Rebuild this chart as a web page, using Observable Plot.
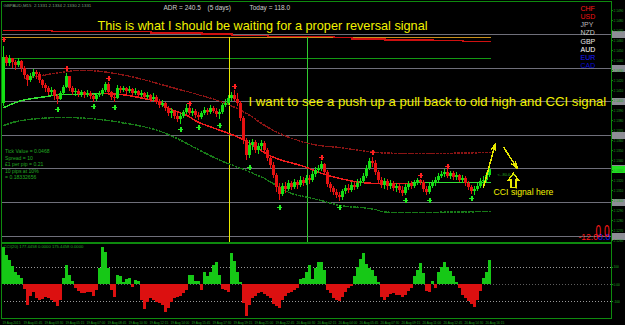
<!DOCTYPE html>
<html><head><meta charset="utf-8">
<script src="https://cdn.jsdelivr.net/npm/d3@7"></script>
<script src="https://cdn.jsdelivr.net/npm/@observablehq/plot@0.6"></script>
<style>
html,body{margin:0;padding:0;background:#000;}
#chart{position:relative;width:625px;height:325px;background:#000;overflow:hidden;}
#chart svg{position:absolute;left:0;display:block;}
</style></head><body><div id="chart"></div>
<script>
// ---------------- data ----------------
const firstOpen = 2.1397;
const close = [2.1443,2.1437,2.1442,2.1438,2.1435,2.1439,2.1432,2.1425,2.1420,2.1424,
2.1428,2.1426,2.1420,2.1415,2.1412,2.1408,2.1410,2.1404,2.1401,2.1407,
2.1413,2.1424,2.1412,2.1408,2.1409,2.1406,2.1408,2.1405,2.1407,2.1404,
2.1401,2.1405,2.1406,2.1410,2.1416,2.1408,2.1403,2.1402,2.1412,2.1410,
2.1412,2.1409,2.1411,2.1407,2.1409,2.1405,2.1407,2.1403,2.1405,2.1401,
2.1403,2.1399,2.1395,2.1397,2.1392,2.1387,2.1389,2.1384,2.1381,2.1384,
2.1388,2.1392,2.1387,2.1389,2.1385,2.1383,2.1387,2.1390,2.1388,2.1392,
2.1389,2.1386,2.1388,2.1395,2.1397,2.1402,2.1405,2.1401,2.1397,2.1382,
2.1360,2.1345,2.1355,2.1358,2.1350,2.1354,2.1357,2.1350,2.1342,2.1335,
2.1325,2.1313,2.1306,2.1314,2.1311,2.1317,2.1313,2.1318,2.1315,2.1320,
2.1317,2.1322,2.1320,2.1326,2.1330,2.1332,2.1336,2.1328,2.1316,2.1312,
2.1308,2.1305,2.1303,2.1309,2.1312,2.1310,2.1315,2.1313,2.1317,2.1319,
2.1324,2.1332,2.1339,2.1337,2.1328,2.1320,2.1315,2.1319,2.1314,2.1317,
2.1312,2.1314,2.1310,2.1307,2.1313,2.1316,2.1314,2.1317,2.1320,2.1318,
2.1311,2.1308,2.1314,2.1317,2.1320,2.1324,2.1326,2.1328,2.1324,2.1327,
2.1323,2.1325,2.1320,2.1322,2.1317,2.1313,2.1309,2.1311,2.1314,2.1319,
2.1320,2.1325,2.1331];
const high = [2.1454,2.1445,2.1445,2.1442,2.1440,2.1442,2.1440,2.1434,2.1426,2.1427,
2.1431,2.1430,2.1428,2.1421,2.1417,2.1414,2.1413,2.1411,2.1406,2.1409,
2.1415,2.1427,2.1424,2.1414,2.1412,2.1411,2.1410,2.1409,2.1410,2.1409,
2.1406,2.1407,2.1409,2.1412,2.1418,2.1418,2.1409,2.1405,2.1415,2.1414,
2.1414,2.1413,2.1414,2.1412,2.1412,2.1410,2.1410,2.1408,2.1408,2.1406,
2.1407,2.1405,2.1401,2.1400,2.1398,2.1394,2.1392,2.1390,2.1387,2.1387,
2.1390,2.1396,2.1394,2.1392,2.1391,2.1388,2.1389,2.1393,2.1392,2.1395,
2.1394,2.1392,2.1391,2.1397,2.1401,2.1405,2.1408,2.1410,2.1407,2.1399,
2.1384,2.1362,2.1360,2.1361,2.1360,2.1357,2.1360,2.1359,2.1352,2.1345,
2.1338,2.1327,2.1317,2.1317,2.1318,2.1320,2.1319,2.1321,2.1320,2.1324,
2.1323,2.1325,2.1325,2.1329,2.1333,2.1335,2.1339,2.1337,2.1330,2.1318,
2.1314,2.1311,2.1308,2.1311,2.1315,2.1316,2.1318,2.1318,2.1321,2.1322,
2.1327,2.1335,2.1342,2.1343,2.1340,2.1330,2.1323,2.1322,2.1321,2.1320,
2.1319,2.1317,2.1316,2.1314,2.1316,2.1319,2.1319,2.1320,2.1322,2.1321,
2.1320,2.1314,2.1317,2.1320,2.1323,2.1327,2.1329,2.1331,2.1331,2.1329,
2.1329,2.1328,2.1326,2.1325,2.1324,2.1319,2.1315,2.1314,2.1317,2.1322,
2.1324,2.1328,2.1334];
const low = [2.1394,2.1434,2.1434,2.1432,2.1430,2.1433,2.1428,2.1422,2.1414,2.1418,
2.1422,2.1421,2.1417,2.1412,2.1408,2.1405,2.1404,2.1400,2.1396,2.1400,
2.1405,2.1412,2.1409,2.1405,2.1404,2.1403,2.1403,2.1402,2.1403,2.1401,
2.1398,2.1399,2.1403,2.1404,2.1408,2.1406,2.1400,2.1398,2.1401,2.1407,
2.1408,2.1406,2.1407,2.1404,2.1405,2.1403,2.1403,2.1401,2.1401,2.1398,
2.1399,2.1396,2.1392,2.1393,2.1389,2.1384,2.1382,2.1381,2.1378,2.1376,
2.1382,2.1386,2.1385,2.1384,2.1382,2.1380,2.1381,2.1385,2.1385,2.1386,
2.1387,2.1383,2.1381,2.1386,2.1393,2.1395,2.1399,2.1399,2.1394,2.1379,
2.1356,2.1340,2.1342,2.1350,2.1347,2.1346,2.1350,2.1346,2.1339,2.1332,
2.1322,2.1308,2.1300,2.1304,2.1307,2.1309,2.1310,2.1311,2.1311,2.1313,
2.1314,2.1315,2.1316,2.1318,2.1323,2.1327,2.1329,2.1325,2.1313,2.1308,
2.1305,2.1302,2.1299,2.1300,2.1306,2.1307,2.1308,2.1310,2.1311,2.1314,
2.1317,2.1322,2.1330,2.1333,2.1325,2.1317,2.1312,2.1311,2.1310,2.1311,
2.1309,2.1308,2.1307,2.1304,2.1305,2.1310,2.1311,2.1312,2.1315,2.1315,
2.1308,2.1305,2.1306,2.1312,2.1314,2.1318,2.1322,2.1323,2.1322,2.1321,
2.1320,2.1320,2.1318,2.1317,2.1314,2.1310,2.1306,2.1305,2.1309,2.1312,
2.1316,2.1318,2.1323];
const cci = [211,166,137,103,69,51,34,-29,-120,-69,
-46,-80,-91,-86,-74,-80,-91,-103,-126,-91,
34,109,51,17,-23,-40,-51,-51,-46,-46,
-69,-34,91,211,183,91,-34,-74,51,46,
11,29,34,-17,23,17,-91,-143,-103,-80,
-91,-103,-109,-120,-160,-137,-103,-80,-74,-69,
-51,-34,51,51,17,17,-34,69,46,69,
109,126,51,-29,-34,-46,177,131,69,11,
-109,-183,-120,-80,-69,-51,-46,-57,-69,-80,
-114,-126,-137,-91,-69,-51,-46,-34,-23,29,
34,69,109,29,91,126,126,80,-34,-51,
-80,-91,-97,-74,-46,-23,-11,46,97,143,
177,114,91,80,46,11,-74,-91,-74,-57,
-51,-63,-63,-74,-63,-40,-23,46,80,120,
63,-40,-46,17,-23,69,97,126,97,74,
46,11,-23,-63,-80,-97,-114,-131,-91,-40,
34,69,137];
const maUp1Idx = [0,6,12,19,25,32];
const maUp1 = [2.1393,2.1400,2.1403,2.1406,2.1406,2.1407];
const maDownIdx = [32,39,45,52,55,61,65,75,82,90,99,105,112,119,126,136];
const maDown = [2.1407,2.1406,2.1403,2.1398,2.1392,2.1385,2.1378,2.1367,2.1357,2.1343,2.1335,2.1328,2.1322,2.1318,2.1317,2.1317];
const maUp2Idx = [136,162];
const maUp2 = [2.1318,2.1318];
const upperIdx = [7,21,28,35,45,56,68,77,83,88,96,105,112,121,132,145,162];
const upperBand = [2.1422,2.1429,2.1430,2.1428,2.1422,2.1413,2.1403,2.1393,2.1383,2.1373,2.1362,2.1355,2.1353,2.1349,2.1347,2.1347,2.1348];
const lowerIdx = [0,6,19,32,39,49,59,70,79,88,95,103,112,119,125,132,162];
const lowerBand = [2.1375,2.1380,2.1383,2.1381,2.1378,2.1372,2.1360,2.1343,2.1332,2.1320,2.1308,2.1302,2.1295,2.1293,2.1290,2.1288,2.1289];
const levelIdx = [0,16,49,66,76,88,110,116,127,143,153,162];
const dailyLevel = [2.1470,2.1469,2.14675,2.14665,2.1465,2.1464,2.1463,2.14615,2.14605,2.1460,2.1459,2.1459];
const orangeLevel = 2.1463;
const greenLevel = 2.1442;
const hLines = [2.1466,2.1432,2.1399,2.1365,2.1332,2.1298,2.1264];
const vLineIdx = [75.17,101.17];
const vLineColor = ["#e8e800","#30cc30"];
const buyIdx = [18,30,37,59,65,72,82,92,112,134,142,156];
const buyPrice = [2.1391,2.1394,2.1393,2.1371,2.1373,2.1375,2.1333,2.1293,2.1293,2.1300,2.1300,2.1302];
const sellIdx = [0,21,35,62,77,106,123,139,148];
const sellPrice = [2.1461,2.1432,2.1422,2.1397,2.1414,2.1343,2.1348,2.1325,2.1334];
const arrowFromIdx = [159.8,166.6];
const arrowFromPrice = [2.1313,2.1353];
const arrowToIdx = [163.8,171.1];
const arrowToPrice = [2.1357,2.1332];
const currencies = ["CHF","USD","JPY","NZD","GBP","AUD","EUR","CAD"];
const currencyColors = ["#ff1a1a","#ee1111","#b8b8b8","#c8c8c8","#e6e6e6","#ffffff","#1a1aff","#0a0ad8"];
const infoLines = ["Tick Value = 0.0468","Spread = 10","\u00a31 per pip = 0.21","10 pips at 10%","= 0.18332656"];
const dateLabels = ["19 Aug 2015","19 Aug 01:45","19 Aug 03:30","19 Aug 05:15","19 Aug 07:00","19 Aug 08:45",
"19 Aug 10:30","19 Aug 12:15","19 Aug 14:00","19 Aug 15:45","19 Aug 17:30","19 Aug 19:15",
"19 Aug 21:00","19 Aug 22:45","20 Aug 00:30","20 Aug 02:15","20 Aug 04:00","20 Aug 05:45",
"20 Aug 07:30","20 Aug 09:15","20 Aug 11:00","20 Aug 12:45","20 Aug 14:30","20 Aug 16:15"];
const cciLevels = [100,0,-100];
const cciLevelLabels = ["100","0.00","-100"];
const titleText = "This is what I should be waiting for a proper reversal signal";
const noteText = "I want to see a push up a pull back to old high and CCI signal";
const signalText = "CCI signal here";

// ---------------- helpers ----------------
const X0 = -0.8333, X1 = 202.5;
const YMIN = 2.1258, YMAX = 2.1499;
const UP = "#14e014", DN = "#e81212", GRN = "#0e8a0e", TXTG = "#22a822";
const FONT = "'Liberation Sans', Arial, sans-serif";
const zip = (xs, ys) => xs.map((x, k) => ({x, y: ys[k]}));
const candles = close.map((c, i) => ({i, o: i ? close[i - 1] : firstOpen, c, h: high[i], l: low[i]}));
const bars = cci.map((v, i) => ({i, v}));
const arrows = arrowFromIdx.map((x, k) => ({x1: x, y1: arrowFromPrice[k], x2: arrowToIdx[k], y2: arrowToPrice[k]}));
const crossSym = {draw(ctx) { ctx.rect(-2.5, -0.9, 5, 1.8); ctx.rect(-0.9, -2.8, 1.8, 5.6); }};
const hollowUp = {draw(ctx) { ctx.moveTo(0, -7); ctx.lineTo(5, -0.5); ctx.lineTo(2.5, -0.5); ctx.lineTo(2.5, 7);
  ctx.lineTo(-2.5, 7); ctx.lineTo(-2.5, -0.5); ctx.lineTo(-5, -0.5); ctx.closePath(); }};
// text placed at absolute pixel (x, baseline y) inside a plot whose frame starts at (1, top)
const hud = (text, x, y, top, opts) => Plot.text([text], {frameAnchor: "top-left", dx: x - 1, dy: y - top,
  textAnchor: "start", lineAnchor: "bottom", ...opts});
const priceTicks = d3.range(2.1260, 2.1495, 0.0010);
const last = candles[candles.length - 1].c;

const mainMarks = [
  Plot.ruleY(hLines, {stroke: "#6f6f7a"}),
  Plot.ruleY([orangeLevel], {x1: X0, x2: 162.5, stroke: "#c8901a"}),
  Plot.line(zip(levelIdx, dailyLevel), {x: "x", y: "y", curve: "step-after", stroke: "#d01010", strokeWidth: 1.4}),
  Plot.ruleY([greenLevel], {x1: X0, x2: 162.5, stroke: "#139a13"}),
  Plot.ruleX(vLineIdx, {x: d => d, y1: orangeLevel, y2: YMIN, stroke: (d, k) => vLineColor[k]}),
  Plot.line(zip(upperIdx, upperBand), {x: "x", y: "y", curve: "natural", stroke: "#8a1414", strokeDasharray: "1.5,2"}),
  Plot.line(zip(lowerIdx, lowerBand), {x: "x", y: "y", curve: "natural", stroke: "#187a18", strokeDasharray: "1.5,2"}),
  Plot.line(zip(maUp1Idx, maUp1), {x: "x", y: "y", curve: "natural", stroke: "#33e033", strokeWidth: 1.5}),
  Plot.line(zip(maDownIdx, maDown), {x: "x", y: "y", curve: "natural", stroke: "#ee1c1c", strokeWidth: 1.5}),
  Plot.line(zip(maUp2Idx, maUp2), {x: "x", y: "y", stroke: "#33e033", strokeWidth: 1.5}),
  Plot.ruleX(candles, {x: "i", y1: "l", y2: "h", stroke: d => d.c >= d.o ? UP : DN}),
  Plot.rect(candles, {x1: d => d.i - 0.34, x2: d => d.i + 0.34,
    y1: d => Math.min(d.o, d.c), y2: d => Math.max(d.o, d.c, Math.min(d.o, d.c) + 0.00008),
    fill: d => d.c >= d.o ? UP : DN}),
  Plot.dot(zip(buyIdx, buyPrice), {x: "x", y: "y", symbol: crossSym, fill: "#22ee22", stroke: "none"}),
  Plot.dot(zip(sellIdx, sellPrice), {x: "x", y: "y", symbol: crossSym, fill: "#ff2020", stroke: "none"}),
  Plot.arrow(arrows, {x1: "x1", y1: "y1", x2: "x2", y2: "y2", stroke: "#e8e800", headLength: 7, headAngle: 35}),
  Plot.dot([{x: 169.8, y: 2.1320}], {x: "x", y: "y", symbol: hollowUp, stroke: "#e8e800", fill: "none"}),
  Plot.text([{x: 164.5, y: 2.1326}], {x: "x", y: "y", text: () => "<--80.0-->", textAnchor: "start", fontSize: 4, fill: TXTG}),
  // right price axis
  Plot.rect(hLines, {x1: X1 + 0.15, x2: X1 + 4.5, y1: d => d - 0.00035, y2: d => d + 0.00035, fill: "#8e8e96"}),
  Plot.rect([last], {x1: X1 + 0.15, x2: X1 + 4.5, y1: d => d - 0.00035, y2: d => d + 0.00035, fill: "#22e022"}),
  Plot.ruleY(priceTicks, {x1: X1, x2: X1 + 0.6, stroke: GRN}),
  Plot.text(priceTicks, {y: d => d, frameAnchor: "right", dx: 2, textAnchor: "start", text: d => d.toFixed(4), fontSize: 3.2, fill: TXTG}),
  // texts
  hud("GBPAUD,M15  2.1331 2.1334 2.1330 2.1331", 3, 6, 1, {fontSize: 4.4, fill: "#7fa07f"}),
  hud("ADR = 240.5", 163, 9.5, 1, {fontSize: 6.5, fill: "#cfcfcf"}),
  hud("(5 days)", 207, 9.5, 1, {fontSize: 6.5, fill: "#cfcfcf"}),
  hud("Today = 118.0", 249, 9.5, 1, {fontSize: 6.5, fill: "#cfcfcf"}),
  hud(titleText, 97, 29, 1, {fontSize: 12.7, fill: "#f2f200"}),
  hud(noteText, 248, 105, 1, {fontSize: 13.2, fill: "#f2f200"}),
  hud(signalText, 493, 194, 1, {fontSize: 8.7, fill: "#f2f200"}),
  ...currencies.map((c, k) => hud(c, 580, 10.5 + k * 8.15, 1, {fontSize: 7, fill: currencyColors[k]})),
  ...infoLines.map((t, k) => hud(t, 4.5, 152.7 + k * 6.5, 1, {fontSize: 5.1, fill: TXTG})),
  hud("-12.0", 578, 239, 1, {fontSize: 8.5, fill: "#ff1a1a"}),
  hud("0.0", 597.5, 239, 1, {fontSize: 9, fill: "#1a1aff"}),
  hud("0.0", 595, 236, 1, {fontSize: 16, fill: "#ff1a1a", className: "big-zero"}),
  Plot.frame({stroke: GRN})
];

const main = Plot.plot({
  width: 625, height: 243, marginLeft: 1, marginRight: 14, marginTop: 1, marginBottom: 1,
  x: {domain: [X0, X1], axis: null},
  y: {domain: [YMIN, YMAX], axis: null},
  color: {type: "identity"},
  style: {background: "transparent", fontFamily: FONT, shapeRendering: "crispEdges", overflow: "visible"},
  marks: mainMarks
});
// the big red readout uses a tall, narrow face in the terminal; squeeze it to that width
d3.select(main).selectAll(".big-zero text").attr("textLength", 14).attr("lengthAdjust", "spacingAndGlyphs");

const cciPlot = Plot.plot({
  width: 625, height: 82, marginLeft: 1, marginRight: 14, marginTop: 0, marginBottom: 7,
  x: {domain: [X0, X1], axis: null},
  y: {domain: [-194.29, 234.29], axis: null},
  color: {type: "identity"},
  style: {background: "transparent", fontFamily: FONT, shapeRendering: "crispEdges", overflow: "visible"},
  marks: [
    Plot.ruleY([100, -100], {stroke: "#9a9a9a", strokeDasharray: "1,2"}),
    Plot.ruleY([0], {stroke: "#5c5c5c", strokeDasharray: "1,2"}),
    Plot.rect(bars, {x1: d => d.i - 0.5, x2: d => d.i + 0.5, y1: 0, y2: "v", fill: d => d.v >= 0 ? "#16c816" : "#dc1010"}),
    hud("CCI(20) 177.4458 0.0000 175.4458 0.0000", 3, 4, 0, {fontSize: 4.2, fill: TXTG}),
    Plot.ruleY(cciLevels, {x1: X1, x2: X1 + 0.6, stroke: GRN}),
    Plot.text(cciLevels, {y: d => d, frameAnchor: "right", dx: 2, textAnchor: "start", text: (d, k) => cciLevelLabels[k], fontSize: 3.2, fill: TXTG}),
    Plot.text(dateLabels, {x: (d, k) => 7 * k - 0.5, frameAnchor: "bottom", dy: 4, textAnchor: "start", lineAnchor: "middle", fontSize: 3.2, fill: TXTG}),
    Plot.frame({stroke: GRN})
  ]
});

const root = document.getElementById("chart");
main.style.top = "0px";
cciPlot.style.top = "243px";
root.appendChild(main);
root.appendChild(cciPlot);
</script></body></html>
